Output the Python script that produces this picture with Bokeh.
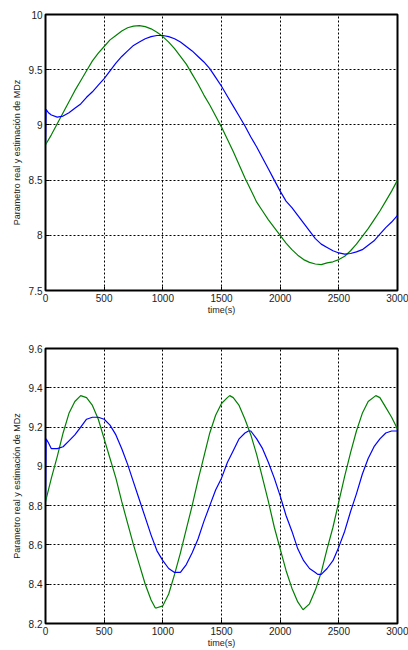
from bokeh.plotting import figure
from bokeh.layouts import column
from bokeh.models import Range1d, FixedTicker
from bokeh.embed import file_html
from bokeh.resources import INLINE

# ---- upper panel: time (s), estimated (blue) and real (green) MDz ----
t_est_top = [0, 5, 25, 50, 100, 150, 200, 250, 300, 350, 400, 450, 500, 550, 600, 650,
             700, 750, 800, 850, 900, 950, 1000, 1050, 1100, 1150, 1200, 1250, 1300,
             1350, 1400, 1450, 1500, 1550, 1600, 1650, 1700, 1750, 1800, 1850, 1900,
             1950, 2000, 2050, 2100, 2150, 2200, 2250, 2300, 2350, 2400, 2450, 2500,
             2550, 2600, 2650, 2700, 2750, 2800, 2850, 2900, 2950, 3000]
est_top = [8.82, 9.14, 9.11, 9.09, 9.07, 9.08, 9.11, 9.15, 9.19, 9.25, 9.30, 9.36, 9.42,
           9.49, 9.56, 9.62, 9.67, 9.72, 9.75, 9.78, 9.80, 9.81, 9.81, 9.80, 9.78, 9.75,
           9.71, 9.67, 9.62, 9.57, 9.51, 9.43, 9.35, 9.26, 9.17, 9.08, 8.99, 8.89, 8.80,
           8.70, 8.60, 8.50, 8.40, 8.31, 8.25, 8.18, 8.11, 8.04, 7.97, 7.92, 7.89, 7.86,
           7.84, 7.83, 7.835, 7.85, 7.87, 7.91, 7.95, 8.01, 8.07, 8.12, 8.18]

t_real_top = [0, 50, 100, 150, 200, 250, 300, 350, 400, 450, 500, 550, 600, 650, 700,
              750, 800, 850, 900, 950, 1000, 1050, 1100, 1150, 1200, 1250, 1300, 1350,
              1400, 1450, 1500, 1550, 1600, 1650, 1700, 1750, 1800, 1850, 1900, 1950,
              2000, 2050, 2100, 2150, 2200, 2250, 2300, 2350, 2400, 2450, 2500, 2550,
              2600, 2650, 2700, 2750, 2800, 2850, 2900, 2950, 3000]
real_top = [8.82, 8.91, 9.01, 9.11, 9.21, 9.31, 9.40, 9.49, 9.58, 9.65, 9.71, 9.77, 9.81,
            9.85, 9.88, 9.895, 9.90, 9.89, 9.87, 9.84, 9.80, 9.75, 9.69, 9.62, 9.55,
            9.46, 9.37, 9.27, 9.18, 9.08, 8.98, 8.87, 8.76, 8.64, 8.52, 8.41, 8.30, 8.22,
            8.14, 8.07, 8.00, 7.93, 7.87, 7.82, 7.78, 7.755, 7.74, 7.735, 7.75, 7.76,
            7.78, 7.81, 7.86, 7.92, 7.99, 8.06, 8.14, 8.22, 8.31, 8.40, 8.50]

# ---- lower panel ----
t_est_bot = [0, 5, 25, 50, 100, 150, 200, 250, 300, 350, 400, 450, 500, 550, 600, 650,
             700, 750, 800, 850, 900, 950, 1000, 1050, 1100, 1150, 1200, 1250, 1300,
             1350, 1400, 1450, 1500, 1550, 1600, 1650, 1700, 1730, 1750, 1800, 1850,
             1900, 1950, 2000, 2050, 2100, 2150, 2200, 2250, 2300, 2320, 2350, 2400,
             2450, 2500, 2550, 2600, 2650, 2700, 2750, 2800, 2850, 2900, 2950, 3000]
est_bot = [8.82, 9.14, 9.12, 9.09, 9.09, 9.10, 9.13, 9.16, 9.20, 9.24, 9.25, 9.25, 9.24,
           9.21, 9.16, 9.09, 9.01, 8.92, 8.83, 8.74, 8.65, 8.57, 8.52, 8.48, 8.46, 8.46,
           8.50, 8.56, 8.63, 8.72, 8.80, 8.88, 8.94, 9.02, 9.08, 9.14, 9.17, 9.18, 9.18,
           9.14, 9.09, 9.02, 8.94, 8.85, 8.75, 8.67, 8.58, 8.52, 8.48, 8.46, 8.45, 8.45,
           8.48, 8.52, 8.59, 8.67, 8.77, 8.86, 8.96, 9.04, 9.10, 9.14, 9.17, 9.18, 9.18]

t_real_bot = [0, 50, 100, 150, 200, 250, 300, 350, 400, 450, 500, 550, 600, 650, 700,
              750, 800, 850, 900, 935, 950, 1000, 1050, 1100, 1150, 1200, 1250, 1300,
              1350, 1400, 1450, 1500, 1550, 1570, 1600, 1650, 1700, 1750, 1800, 1850,
              1900, 1950, 2000, 2050, 2100, 2150, 2195, 2250, 2300, 2350, 2400, 2450,
              2500, 2550, 2600, 2650, 2700, 2750, 2815, 2850, 2900, 2950, 3000]
real_bot = [8.82, 8.94, 9.05, 9.17, 9.27, 9.33, 9.36, 9.35, 9.31, 9.24, 9.14, 9.04, 8.94,
            8.82, 8.71, 8.60, 8.50, 8.40, 8.32, 8.28, 8.28, 8.29, 8.35, 8.45, 8.56, 8.68,
            8.80, 8.93, 9.05, 9.17, 9.26, 9.32, 9.35, 9.36, 9.35, 9.31, 9.24, 9.16, 9.06,
            8.94, 8.82, 8.69, 8.58, 8.47, 8.38, 8.31, 8.27, 8.30, 8.37, 8.46, 8.58, 8.69,
            8.82, 8.95, 9.07, 9.18, 9.27, 9.33, 9.36, 9.35, 9.30, 9.25, 9.19]

x_ticks = [0, 500, 1000, 1500, 2000, 2500, 3000]
y_ticks_top = [7.5, 8, 8.5, 9, 9.5, 10]
y_labels_top = ["7.5", "8", "8.5", "9", "9.5", "10"]
y_ticks_bot = [8.2, 8.4, 8.6, 8.8, 9, 9.2, 9.4, 9.6]
y_labels_bot = ["8.2", "8.4", "8.6", "8.8", "9", "9.2", "9.4", "9.6"]

FONT = "Liberation Sans"
BLUE = "#0000ff"
GREEN = "#008000"


def panel(height, top, bottom, yr, yt, yl, t_est, est, t_real, real):
    p = figure(width=408, height=height, output_backend="svg", toolbar_location=None,
               x_range=Range1d(0, 3000), y_range=Range1d(*yr),
               min_border_left=45, min_border_right=11,
               min_border_top=top, min_border_bottom=bottom)
    p.outline_line_color = "black"
    p.outline_line_width = 2
    p.background_fill_color = "white"
    p.border_fill_color = "white"

    p.xaxis.ticker = FixedTicker(ticks=x_ticks)
    p.yaxis.ticker = FixedTicker(ticks=yt)
    p.yaxis.major_label_overrides = {v: s for v, s in zip(yt, yl)}
    for ax in (p.xaxis, p.yaxis):
        ax.axis_line_color = "black"
        ax.axis_line_width = 1
        ax.major_tick_in = 4
        ax.major_tick_out = 0
        ax.minor_tick_line_color = None
        ax.major_label_text_font = FONT
        ax.major_label_text_font_size = "10px"
        ax.major_label_text_color = "#222222"
        ax.axis_label_text_font = FONT
        ax.axis_label_text_font_style = "normal"
        ax.axis_label_text_font_size = "9px"
        ax.axis_label_text_color = "#222222"
    p.xaxis.major_label_standoff = 3
    p.yaxis.major_label_standoff = 3
    p.xaxis.axis_label = "time(s)"
    p.xaxis.axis_label_standoff = 0
    p.yaxis.axis_label = "Parametro real y estimación de MDz"
    p.yaxis.axis_label_standoff = 4

    # dotted black grid
    for g in (p.xgrid, p.ygrid):
        g.grid_line_color = "black"
        g.grid_line_dash = "2 2"
        g.grid_line_width = 1
        g.grid_line_alpha = 1.0

    p.line(t_real, real, line_color=GREEN, line_width=1.2)
    p.line(t_est, est, line_color=BLUE, line_width=1.2)
    return p


p1 = panel(320, 14, 30, (7.5, 10), y_ticks_top, y_labels_top,
           t_est_top, est_top, t_real_top, real_top)
p2 = panel(330, 28, 26, (8.2, 9.6), y_ticks_bot, y_labels_bot,
           t_est_bot, est_bot, t_real_bot, real_bot)

layout = column(p1, p2, spacing=0)
open("out.html", "w").write(file_html(layout, INLINE))
